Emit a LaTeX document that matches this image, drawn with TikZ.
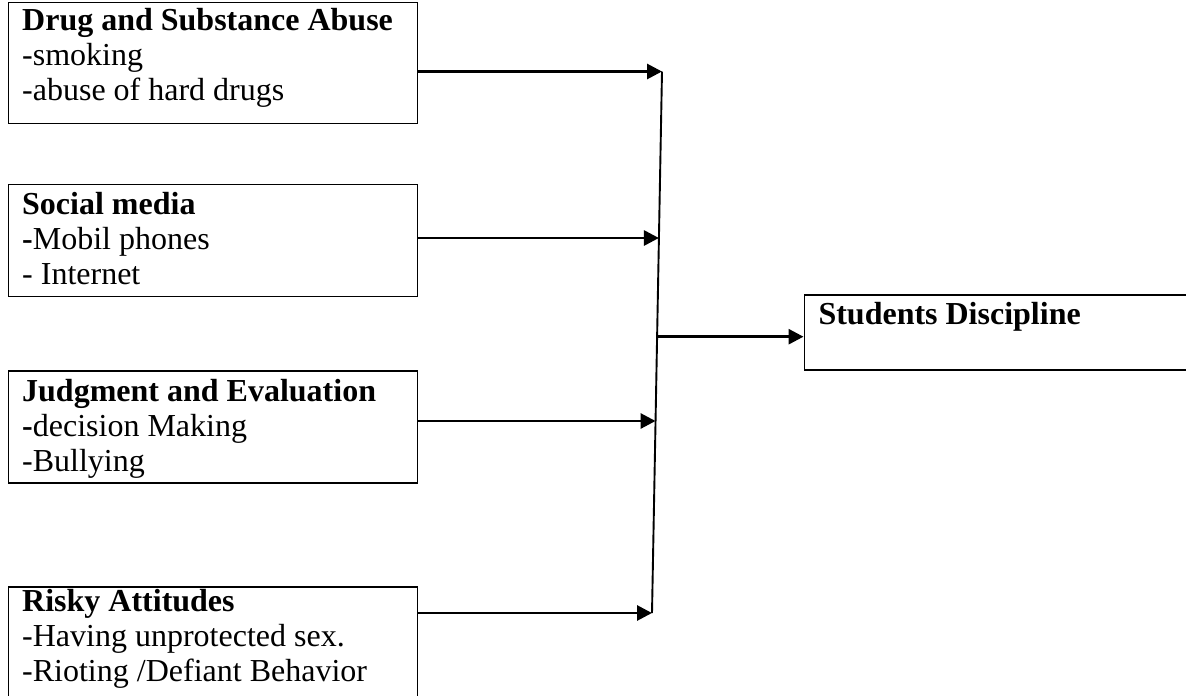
\documentclass[tikz,border=0pt]{standalone}
\usepackage{fontspec}
\setmainfont{Liberation Serif}
\usetikzlibrary{arrows.meta,calc}
\begin{document}
\begin{tikzpicture}[x=1pt,y=-1pt,
  boxshape/.style={draw,line width=1.5pt,rectangle,inner sep=0pt,anchor=north west},
  boxtext/.style={anchor=base west,inner sep=0pt,align=left,font=\fontsize{32}{35}\selectfont},
  conn/.style={line width=2.9pt,-{Triangle[length=15pt,width=15pt]}},
  spine/.style={line width=1.9pt}]
\useasboundingbox (0,0) rectangle (1186,696);
\clip (0,0) rectangle (1186,696);
% boxes
\node[boxshape,minimum width=409pt,minimum height=121pt] (b1) at (7.5,1.5) {};
\node[boxshape,minimum width=409pt,minimum height=112pt] (b2) at (7.5,183.5) {};
\node[boxshape,minimum width=409pt,minimum height=112pt] (b3) at (7.5,370) {};
\node[boxshape,minimum width=409pt,minimum height=130pt] (b4) at (7.5,586) {};
\node[boxshape,minimum width=400pt,minimum height=75pt] (r) at (803.5,294.3) {};
% texts (base anchor = baseline of the last line)
\node[boxtext] (t1) at (22,100.5) {\textbf{Drug and Substance Abuse}\\-smoking\\-abuse of hard drugs};
\node[boxtext] (t2) at (22,284.5) {\textbf{Social media}\\\textbf{-}Mobil phones\\- Internet};
\node[boxtext] (t3) at (22,471) {\textbf{Judgment and Evaluation}\\\textbf{-}decision Making\\-Bullying};
\node[boxtext] (t4) at (22,681.5) {\textbf{Risky Attitudes}\\-Having unprotected sex.\\-Rioting /Defiant Behavior};
\node[boxtext] (tr) at (818.3,324.3) {\textbf{Students Discipline}};
% spine
\coordinate (top) at (662,71.5);
\coordinate (bot) at (652,613);
\draw[spine] (top) -- (bot);
\coordinate (p2) at ($(top)!{(238-71.5)/(613-71.5)}!(bot)$);
\coordinate (p3) at ($(top)!{(421-71.5)/(613-71.5)}!(bot)$);
\coordinate (pm) at ($(top)!{(336.7-71.5)/(613-71.5)}!(bot)$);
% connectors
\draw[conn] (b1.east |- top) -- (top);
\draw[conn] (b2.east |- p2) -- (p2);
\draw[conn] (b3.east |- p3) -- (p3);
\draw[conn] (b4.east |- bot) -- (bot);
\draw[conn] (pm) -- (r.west |- pm);
\end{tikzpicture}
\end{document}
